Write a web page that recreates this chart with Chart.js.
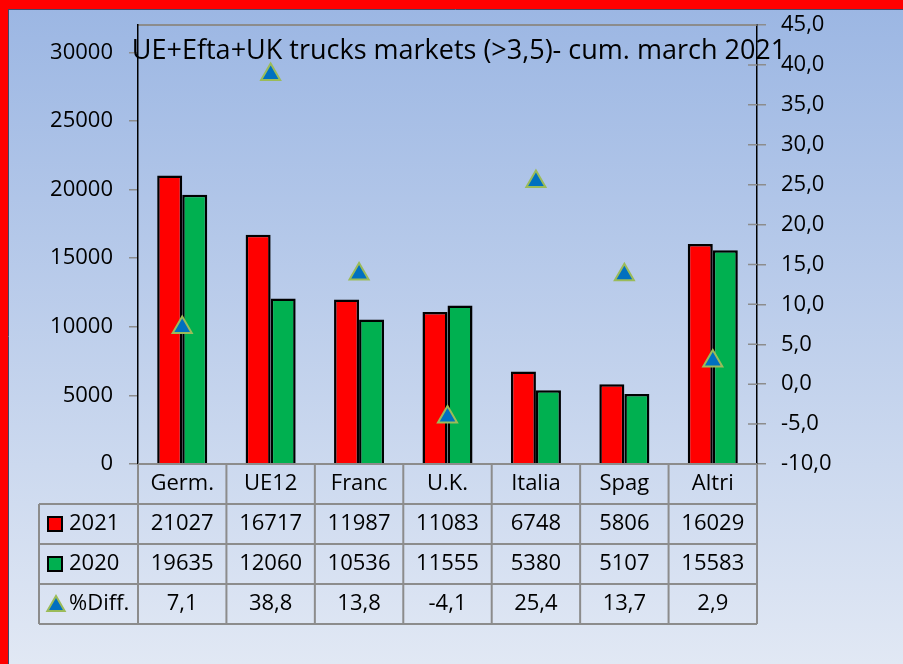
<!DOCTYPE html>
<html>
<head>
<meta charset="utf-8">
<script src="https://cdn.jsdelivr.net/npm/chart.js@4.4.1/dist/chart.umd.min.js"></script>
<style>
  html, body { margin: 0; padding: 0; background: #dfe6f3; }
  canvas { display: block; }
</style>
</head>
<body>
<canvas id="trucksChart" width="903" height="664"></canvas>
<script>
var categories = ['Germ.', 'UE12', 'Franc', 'U.K.', 'Italia', 'Spag', 'Altri'];
var sales2021 = [21027, 16717, 11987, 11083, 6748, 5806, 16029];
var sales2020 = [19635, 12060, 10536, 11555, 5380, 5107, 15583];
var diffPct = [7.1, 38.8, 13.8, -4.1, 25.4, 13.7, 2.9];
var leftTicks = [0, 5000, 10000, 15000, 20000, 25000, 30000];
var rightTicks = [-10, -5, 0, 5, 10, 15, 20, 25, 30, 35, 40, 45];
var titleText = 'UE+Efta+UK trucks markets (>3,5)- cum. march 2021';

var FONT = "'Open Sans', sans-serif";

function fmtComma(v) {
  return v.toFixed(1).replace('.', ',');
}

// sfondo sfumato + bordo rosso
var backgroundPlugin = {
  id: 'background',
  beforeDraw: function(chart) {
    var ctx = chart.ctx;
    var g = ctx.createLinearGradient(0, 0, 0, chart.height);
    g.addColorStop(0, '#9bb6e3');
    g.addColorStop(1, '#e1e8f4');
    ctx.save();
    ctx.fillStyle = g;
    ctx.fillRect(0, 0, chart.width, chart.height);
    ctx.fillStyle = '#ff0000';
    ctx.fillRect(0, 0, chart.width, 9);
    ctx.fillRect(0, 0, 8, chart.height);
    ctx.strokeStyle = '#3c4a6a';
    ctx.lineWidth = 1;
    ctx.beginPath();
    ctx.moveTo(8, 9.5);
    ctx.lineTo(chart.width, 9.5);
    ctx.moveTo(8.5, 9);
    ctx.lineTo(8.5, chart.height);
    ctx.stroke();
    // bordo superiore area grafico
    var a = chart.chartArea;
    ctx.strokeStyle = '#8c8c8c';
    ctx.lineWidth = 2;
    ctx.beginPath();
    ctx.moveTo(a.left, a.top);
    ctx.lineTo(a.right, a.top);
    ctx.stroke();
    ctx.restore();
  }
};

function drawTriangle(ctx, cx, cy, r) {
  ctx.beginPath();
  ctx.moveTo(cx, cy - r);
  ctx.lineTo(cx + r * 0.866, cy + r * 0.5);
  ctx.lineTo(cx - r * 0.866, cy + r * 0.5);
  ctx.closePath();
  ctx.fillStyle = '#0070c0';
  ctx.fill();
  ctx.strokeStyle = '#9bbb59';
  ctx.lineWidth = 2;
  ctx.stroke();
}

// tabella dati sotto il grafico + titolo
var tablePlugin = {
  id: 'dataTable',
  afterDraw: function(chart) {
    var ctx = chart.ctx;
    var a = chart.chartArea;
    var xs = chart.scales.x;
    var n = categories.length;
    var colW = a.width / n;
    var rowH = 40;
    var top = a.bottom;
    var legendLeft = 39;

    ctx.save();

    // tacche interne asse destro
    var y1 = chart.scales.y1;
    ctx.strokeStyle = '#8c8c8c';
    ctx.lineWidth = 1.5;
    ctx.beginPath();
    rightTicks.forEach(function(v) {
      var py = y1.getPixelForValue(v);
      ctx.moveTo(a.right - 9, py);
      ctx.lineTo(a.right, py);
    });
    ctx.stroke();

    // griglia
    ctx.strokeStyle = '#8c8c8c';
    ctx.lineWidth = 2;
    ctx.beginPath();
    ctx.moveTo(a.left, top);
    ctx.lineTo(a.right, top);
    for (var r = 1; r <= 4; r++) {
      ctx.moveTo(legendLeft, top + r * rowH);
      ctx.lineTo(a.right, top + r * rowH);
    }
    ctx.moveTo(legendLeft, top + rowH);
    ctx.lineTo(legendLeft, top + 4 * rowH);
    for (var i = 0; i <= n; i++) {
      var lx = a.left + i * colW;
      ctx.moveTo(lx, top);
      ctx.lineTo(lx, top + 4 * rowH);
    }
    ctx.stroke();

    // testi
    ctx.fillStyle = '#000';
    ctx.font = '22px ' + FONT;
    ctx.textAlign = 'center';
    ctx.textBaseline = 'middle';
    var rows = [
      categories,
      sales2021.map(String),
      sales2020.map(String),
      diffPct.map(fmtComma)
    ];
    rows.forEach(function(vals, r) {
      var cy = top + r * rowH + rowH / 2;
      vals.forEach(function(v, i) {
        ctx.fillText(v, xs.getPixelForValue(i), cy);
      });
    });

    // legenda
    var legendRows = [
      { label: '2021', color: '#ff0000' },
      { label: '2020', color: '#00b050' },
      { label: '%Diff.', color: null }
    ];
    legendRows.forEach(function(item, k) {
      var cy = top + (k + 1) * rowH + rowH / 2;
      if (item.color) {
        ctx.fillStyle = item.color;
        ctx.fillRect(48, cy - 7, 14, 14);
        ctx.strokeStyle = '#000';
        ctx.lineWidth = 2;
        ctx.strokeRect(48, cy - 7, 14, 14);
      } else {
        drawTriangle(ctx, 56, cy + 2, 10);
      }
      ctx.fillStyle = '#000';
      ctx.textAlign = 'left';
      ctx.fillText(item.label, 69, cy);
    });

    // titolo
    ctx.font = '27px ' + FONT;
    ctx.textAlign = 'center';
    ctx.fillStyle = '#000';
    ctx.fillText(titleText, 459, 51);

    ctx.restore();
  }
};

function fixVertical(width) {
  return function(scale) {
    scale.width = width;
    scale.paddingTop = 0;
    scale.paddingBottom = 0;
  };
}

var ctx = document.getElementById('trucksChart').getContext('2d');
var trucksChart = new Chart(ctx, {
  type: 'bar',
  data: {
    labels: categories,
    datasets: [
      {
        label: '%Diff.',
        type: 'line',
        data: diffPct,
        yAxisID: 'y1',
        showLine: false,
        pointStyle: 'triangle',
        pointRadius: 11,
        pointHoverRadius: 11,
        pointBackgroundColor: '#0070c0',
        pointBorderColor: '#9bbb59',
        pointBorderWidth: 2,
        order: 0
      },
      {
        label: '2021',
        data: sales2021,
        yAxisID: 'y',
        backgroundColor: '#ff0000',
        borderColor: '#000000',
        borderWidth: 2.5,
        categoryPercentage: 0.566,
        barPercentage: 1.0,
        order: 1
      },
      {
        label: '2020',
        data: sales2020,
        yAxisID: 'y',
        backgroundColor: '#00b050',
        borderColor: '#000000',
        borderWidth: 2.5,
        categoryPercentage: 0.566,
        barPercentage: 1.0,
        order: 1
      }
    ]
  },
  options: {
    responsive: false,
    animation: false,
    devicePixelRatio: 1,
    layout: { padding: { top: 25, bottom: 200, left: 0, right: 0 } },
    plugins: {
      legend: { display: false },
      title: { display: false },
      tooltip: { enabled: false }
    },
    scales: {
      x: {
        display: false
      },
      y: {
        position: 'left',
        min: 0,
        max: 32000,
        afterBuildTicks: function(scale) {
          scale.ticks = leftTicks.map(function(v) { return { value: v }; });
        },
        afterFit: fixVertical(138),
        border: { display: true, color: '#000', width: 1.5 },
        grid: { drawOnChartArea: false, color: '#8c8c8c', tickLength: 9, lineWidth: 1.5 },
        ticks: {
          padding: 16,
          color: '#000',
          font: { family: FONT, size: 22 },
          callback: function(v) { return String(v); }
        }
      },
      y1: {
        position: 'right',
        min: -10,
        max: 45,
        afterBuildTicks: function(scale) {
          scale.ticks = rightTicks.map(function(v) { return { value: v }; });
        },
        afterFit: fixVertical(146),
        border: { display: true, color: '#000', width: 1.5 },
        grid: { drawOnChartArea: false, color: '#8c8c8c', tickLength: 9, lineWidth: 1.5 },
        ticks: {
          padding: 15,
          color: '#000',
          font: { family: FONT, size: 22 },
          callback: function(v) { return fmtComma(v); }
        }
      }
    }
  },
  plugins: [backgroundPlugin, tablePlugin]
});
</script>
</body>
</html>
